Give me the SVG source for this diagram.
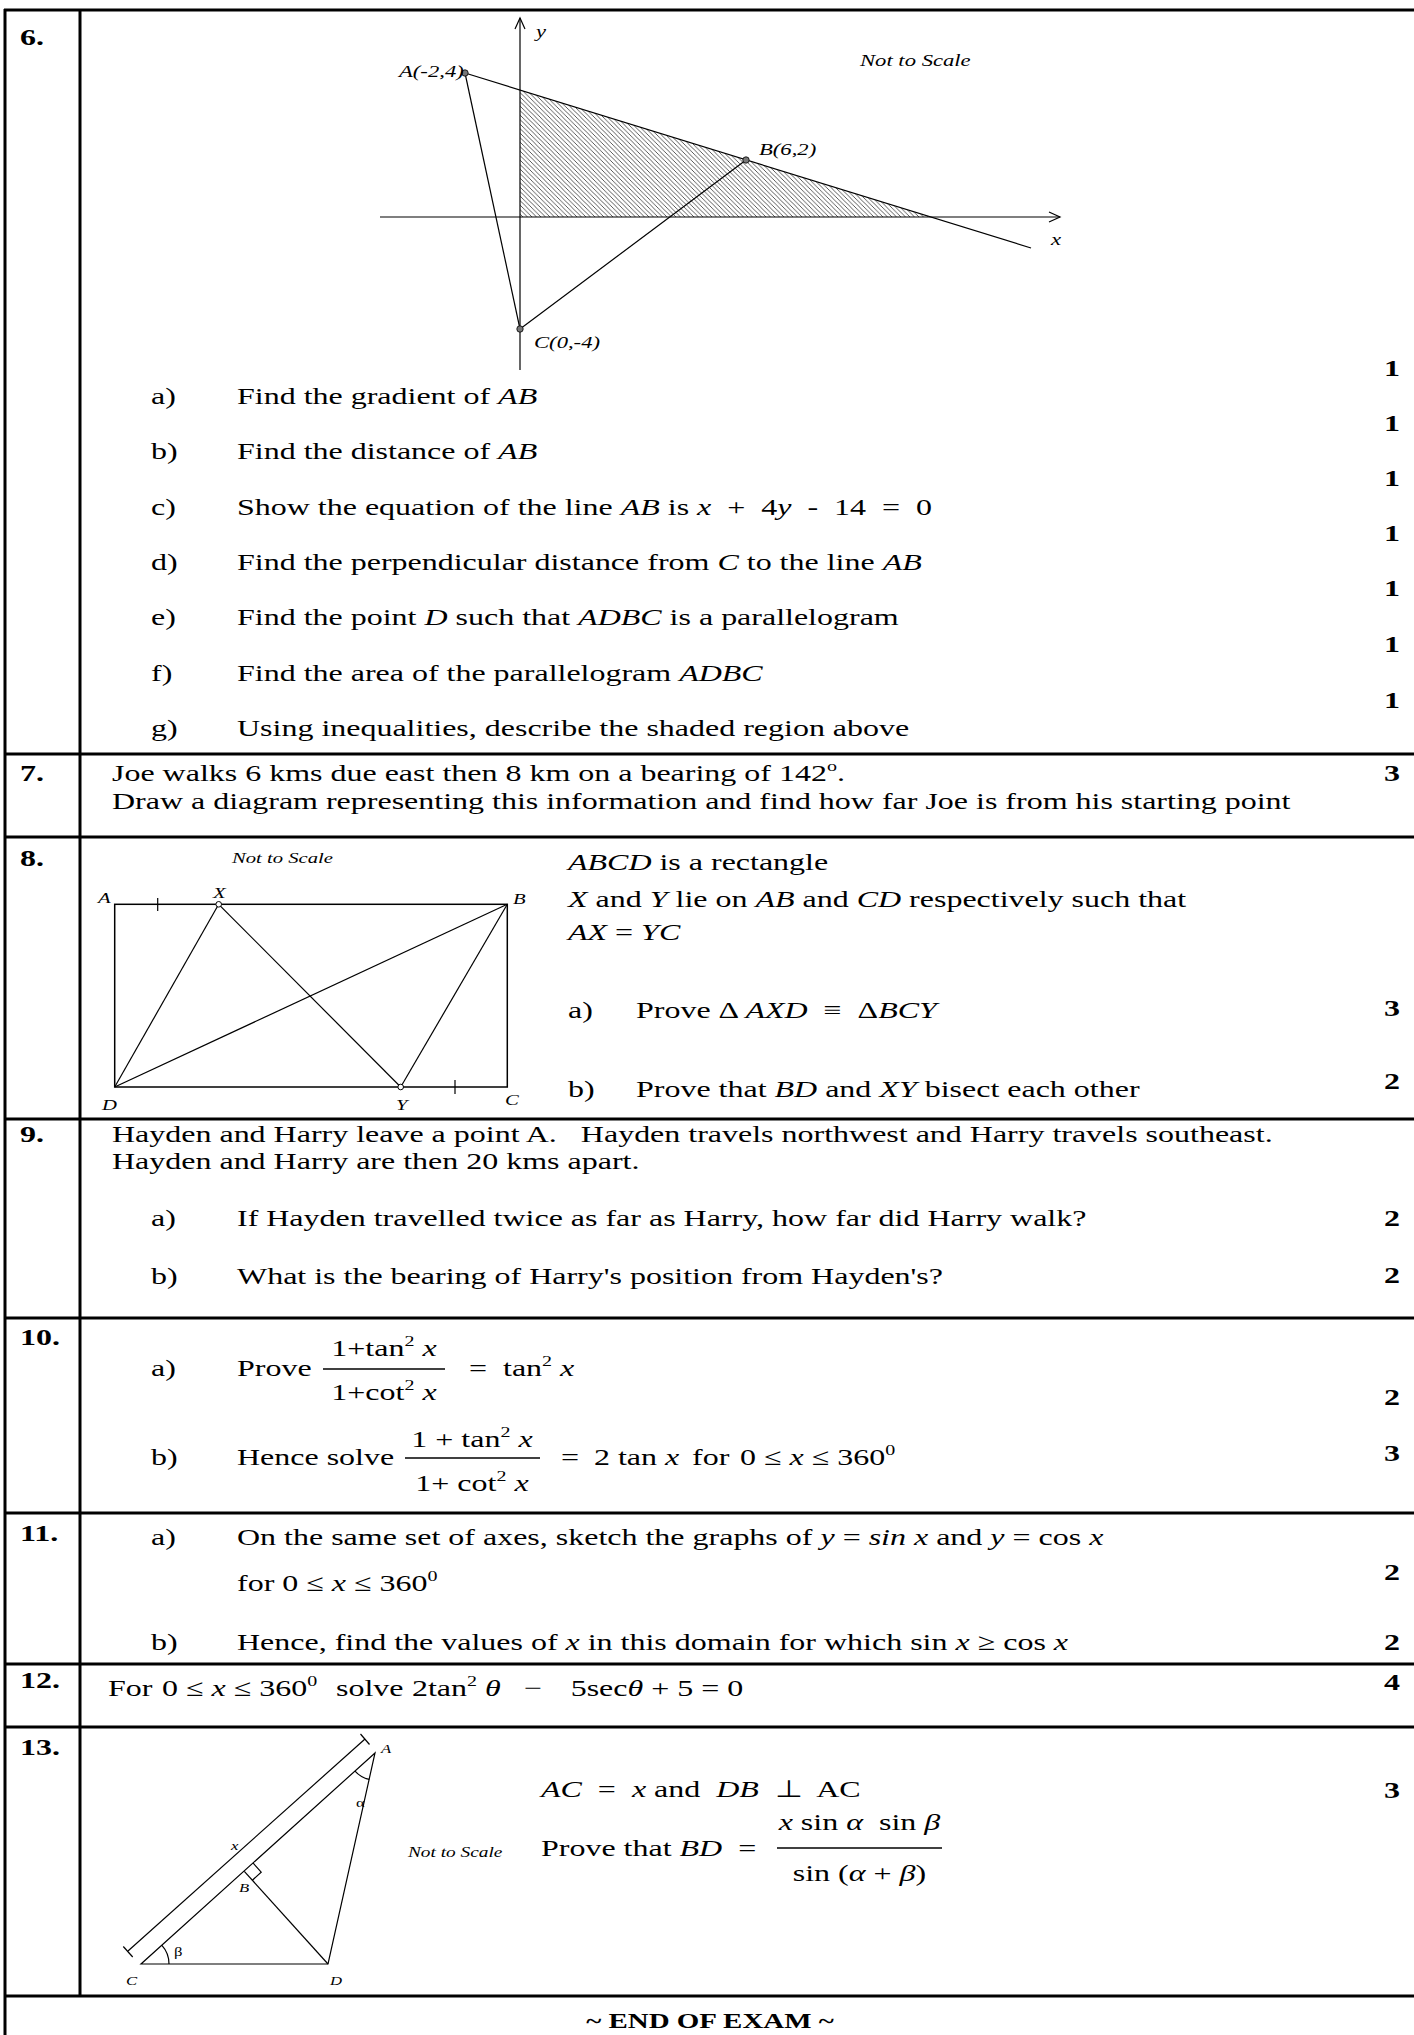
<svg xmlns="http://www.w3.org/2000/svg" width="1414" height="2035" viewBox="0 0 1414 2035">
<defs>
<pattern id="hatch" patternUnits="userSpaceOnUse" width="4.5" height="4.5">
<path d="M-1,-1 L5.5,5.5 M-1,3.5 L1,5.5 M3.5,-1 L5.5,1" stroke="#333" stroke-width="0.8"/>
</pattern>
<style>
.t{font-family:"Liberation Serif","Times New Roman",serif;font-size:24px;fill:#000}
.b{font-weight:bold}
.i{font-style:italic}
.s{font-size:15px}
.l17{font-size:17px;font-style:italic}
.l15{font-size:15.5px;font-style:italic}
.l12{font-size:12.5px;font-style:italic}
.u{font-style:normal}
.m{text-anchor:middle}
.e{text-anchor:end}
.ln{stroke:#000;fill:none;stroke-width:1.2}
.tb{stroke:#000;stroke-width:3}
</style>
</defs>
<rect width="1414" height="2035" fill="#fff"/>
<g id="table">
<line class="tb" x1="4" y1="10" x2="1414" y2="10"/>
<line class="tb" x1="5" y1="9" x2="5" y2="2035"/>
<line class="tb" x1="80" y1="9" x2="80" y2="1996"/>
<line class="tb" x1="4" y1="754" x2="1414" y2="754"/>
<line class="tb" x1="4" y1="837" x2="1414" y2="837"/>
<line class="tb" x1="4" y1="1119" x2="1414" y2="1119"/>
<line class="tb" x1="4" y1="1318" x2="1414" y2="1318"/>
<line class="tb" x1="4" y1="1513" x2="1414" y2="1513"/>
<line class="tb" x1="4" y1="1664" x2="1414" y2="1664"/>
<line class="tb" x1="4" y1="1727" x2="1414" y2="1727"/>
<line class="tb" x1="4" y1="1996" x2="1414" y2="1996"/>
</g>
<g id="q6-graph">
<polygon points="520,90 930,217 520,217" fill="url(#hatch)"/>
<line class="ln" x1="380" y1="217" x2="1060" y2="217"/>
<path class="ln" d="M1049,212 L1060,217 L1049,222"/>
<line class="ln" x1="520" y1="370" x2="520" y2="18"/>
<path class="ln" d="M515,29 L520,18 L525,29"/>
<line class="ln" x1="465" y1="73" x2="1031" y2="248"/>
<line class="ln" x1="465" y1="73" x2="520" y2="329"/>
<line class="ln" x1="520" y1="329" x2="746" y2="160"/>
<circle cx="465" cy="73" r="3.2" fill="#777" stroke="#000" stroke-width="0.8"/>
<circle cx="746" cy="160" r="3.2" fill="#777" stroke="#000" stroke-width="0.8"/>
<circle cx="520" cy="329" r="3.2" fill="#777" stroke="#000" stroke-width="0.8"/>
</g>
<g id="q8-diagram">
<rect x="114.7" y="904.3" width="392.6" height="182.7" fill="none" stroke="#000" stroke-width="1.5"/>
<line class="ln" x1="114.7" y1="1087" x2="218.7" y2="904.3"/>
<line class="ln" x1="218.7" y1="904.3" x2="400.7" y2="1087"/>
<line class="ln" x1="114.7" y1="1087" x2="507.3" y2="904.3"/>
<line class="ln" x1="400.7" y1="1087" x2="507.3" y2="904.3"/>
<line class="ln" x1="157.7" y1="898" x2="157.7" y2="911"/>
<line class="ln" x1="455" y1="1080" x2="455" y2="1094"/>
<circle cx="218.7" cy="904.3" r="2.8" fill="#fff" stroke="#000" stroke-width="1"/>
<circle cx="400.7" cy="1087" r="2.8" fill="#fff" stroke="#000" stroke-width="1"/>
</g>
<g id="q13-diagram">
<path class="ln" d="M375,1753 L141,1964 L328,1964 Z"/>
<line class="ln" x1="244.3" y1="1871.3" x2="328" y2="1964"/>
<path class="ln" d="M253.2,1863.2 L261.2,1872.1 L252.4,1880.2"/>
<line class="ln" x1="128" y1="1951" x2="365" y2="1739"/>
<line class="ln" x1="123.3" y1="1946.5" x2="132.7" y2="1957"/>
<line class="ln" x1="360.5" y1="1734" x2="369.5" y2="1744.5"/>
<path class="ln" d="M355,1771.1 A27,27 0 0 0 369.2,1779.4"/>
<path class="ln" d="M169,1964 A28,28 0 0 0 161.7,1945.2"/>
</g>
<g id="fraction-bars" stroke="#000" stroke-width="1.5">
<line x1="323" y1="1369" x2="445" y2="1369"/>
<line x1="405" y1="1458" x2="540" y2="1458"/>
<line x1="777" y1="1848" x2="942" y2="1848"/>
</g>
<g id="texts" class="t" transform="scale(1.33333 1)">
<g class="b">
<text x="15" y="45">6.</text>
<text x="15" y="781">7.</text>
<text x="15" y="866">8.</text>
<text x="15" y="1142">9.</text>
<text x="15" y="1345">10.</text>
<text x="15" y="1541">11.</text>
<text x="15" y="1688">12.</text>
<text x="15" y="1755">13.</text>
</g>
<g class="b e">
<text x="1050" y="376">1</text>
<text x="1050" y="431">1</text>
<text x="1050" y="486">1</text>
<text x="1050" y="541">1</text>
<text x="1050" y="596">1</text>
<text x="1050" y="652">1</text>
<text x="1050" y="708">1</text>
<text x="1050" y="781">3</text>
<text x="1050" y="1016">3</text>
<text x="1050" y="1089">2</text>
<text x="1050" y="1226">2</text>
<text x="1050" y="1283">2</text>
<text x="1050" y="1405">2</text>
<text x="1050" y="1461">3</text>
<text x="1050" y="1580">2</text>
<text x="1050" y="1650">2</text>
<text x="1050" y="1690">4</text>
<text x="1050" y="1798">3</text>
</g>
<!-- Q6 -->
<text class="l17" x="645" y="66">Not to Scale</text>
<text class="l17" x="299.25" y="77">A(-2,4)</text>
<text class="l17" x="569.25" y="155">B(6,2)</text>
<text class="l17" x="400.5" y="348">C(0,-4)</text>
<text class="l17" x="402" y="37">y</text>
<text class="l17" x="788.25" y="245">x</text>
<text x="113.25" y="404">a)</text>
<text x="177.75" y="404">Find the gradient of <tspan class="i">AB</tspan></text>
<text x="113.25" y="459">b)</text>
<text x="177.75" y="459">Find the distance of <tspan class="i">AB</tspan></text>
<text x="113.25" y="515">c)</text>
<text x="177.75" y="515">Show the equation of the line <tspan class="i">AB</tspan> is <tspan class="i">x</tspan>&#160; +&#160; 4<tspan class="i">y</tspan>&#160; -&#160; 14&#160; =&#160; 0</text>
<text x="113.25" y="570">d)</text>
<text x="177.75" y="570">Find the perpendicular distance from <tspan class="i">C</tspan> to the line <tspan class="i">AB</tspan></text>
<text x="113.25" y="625">e)</text>
<text x="177.75" y="625">Find the point <tspan class="i">D</tspan> such that <tspan class="i">ADBC</tspan> is a parallelogram</text>
<text x="113.25" y="681">f)</text>
<text x="177.75" y="681">Find the area of the parallelogram <tspan class="i">ADBC</tspan></text>
<text x="113.25" y="736">g)</text>
<text x="177.75" y="736">Using inequalities, describe the shaded region above</text>
<!-- Q7 -->
<text x="84" y="781">Joe walks 6 kms due east then 8 km on a bearing of 142<tspan class="s" dy="-10">o</tspan><tspan dy="10">.</tspan></text>
<text x="84" y="809">Draw a diagram representing this information and find how far Joe is from his starting point</text>
<!-- Q8 -->
<text class="l15" x="174" y="863">Not to Scale</text>
<text class="l15" x="73.5" y="903">A</text>
<text class="l15" x="159.75" y="898">X</text>
<text class="l15" x="384.75" y="904">B</text>
<text class="l15" x="76.5" y="1110">D</text>
<text class="l15" x="297" y="1110">Y</text>
<text class="l15" x="378.75" y="1105">C</text>
<text x="426" y="870"><tspan class="i">ABCD</tspan> is a rectangle</text>
<text x="426" y="907"><tspan class="i">X</tspan> and <tspan class="i">Y</tspan> lie on <tspan class="i">AB</tspan> and <tspan class="i">CD</tspan> respectively such that</text>
<text x="426" y="940"><tspan class="i">AX</tspan> = <tspan class="i">YC</tspan></text>
<text x="426" y="1018">a)</text>
<text x="477" y="1018">Prove Δ <tspan class="i">AXD</tspan>&#160; ≡&#160; Δ<tspan class="i">BCY</tspan></text>
<text x="426" y="1097">b)</text>
<text x="477" y="1097">Prove that <tspan class="i">BD</tspan> and <tspan class="i">XY</tspan> bisect each other</text>
<!-- Q9 -->
<text x="84" y="1142">Hayden and Harry leave a point A.&#160;&#160; Hayden travels northwest and Harry travels southeast.</text>
<text x="84" y="1169">Hayden and Harry are then 20 kms apart.</text>
<text x="113.25" y="1226">a)</text>
<text x="177.75" y="1226">If Hayden travelled twice as far as Harry, how far did Harry walk?</text>
<text x="113.25" y="1284">b)</text>
<text x="177.75" y="1284">What is the bearing of Harry's position from Hayden's?</text>
<!-- Q10 -->
<text x="113.25" y="1376">a)</text>
<text x="177.75" y="1376">Prove</text>
<text class="m" x="288" y="1356">1+tan<tspan class="s" dy="-10">2</tspan><tspan class="i" dy="10"> x</tspan></text>
<text class="m" x="288" y="1400">1+cot<tspan class="s" dy="-10">2</tspan><tspan class="i" dy="10"> x</tspan></text>
<text x="351.75" y="1376">=&#160; tan<tspan class="s" dy="-10">2</tspan><tspan class="i" dy="10"> x</tspan></text>
<text x="113.25" y="1465">b)</text>
<text x="177.75" y="1465">Hence solve</text>
<text class="m" x="354" y="1447">1 + tan<tspan class="s" dy="-10">2</tspan><tspan class="i" dy="10"> x</tspan></text>
<text class="m" x="354" y="1491">1+ cot<tspan class="s" dy="-10">2</tspan><tspan class="i" dy="10"> x</tspan></text>
<text x="420.75" y="1465">=</text>
<text x="445.5" y="1465">2 tan <tspan class="i">x</tspan></text>
<text x="519" y="1465">for</text>
<text x="555" y="1465">0 ≤ <tspan class="i">x</tspan> ≤ 360<tspan class="s" dy="-10">0</tspan></text>
<!-- Q11 -->
<text x="113.25" y="1545">a)</text>
<text x="177.75" y="1545">On the same set of axes, sketch the graphs of <tspan class="i">y</tspan> = <tspan class="i">sin x</tspan> and <tspan class="i">y</tspan> = cos <tspan class="i">x</tspan></text>
<text x="177.75" y="1591">for 0 ≤ <tspan class="i">x</tspan> ≤ 360<tspan class="s" dy="-10">0</tspan></text>
<text x="113.25" y="1650">b)</text>
<text x="177.75" y="1650">Hence, find the values of <tspan class="i">x</tspan> in this domain for which sin <tspan class="i">x</tspan> ≥ cos <tspan class="i">x</tspan></text>
<!-- Q12 -->
<text x="81" y="1696">For</text>
<text x="121.5" y="1696">0 ≤ <tspan class="i">x</tspan> ≤ 360<tspan class="s" dy="-10">0</tspan></text>
<text x="252" y="1696">solve</text>
<text x="309" y="1696">2tan<tspan class="s" dy="-10">2</tspan><tspan class="i" dy="10"> θ</tspan></text>
<text x="393" y="1696">−</text>
<text x="428" y="1696">5sec<tspan class="i">θ</tspan> + 5 = 0</text>
<!-- Q13 -->
<text class="l12" x="285.75" y="1753">A</text>
<text class="l12" x="94.5" y="1985">C</text>
<text class="l12" x="247.5" y="1985">D</text>
<text class="l12" x="179.25" y="1892">B</text>
<text class="l12" x="173.25" y="1850">x</text>
<text class="l12 u" x="267" y="1807">α</text>
<text class="l12 u" x="130.5" y="1956">β</text>
<text class="i" style="font-size:14.5px" x="306" y="1857">Not to Scale</text>
<text x="405.75" y="1797"><tspan class="i">AC</tspan>&#160; =&#160; <tspan class="i">x</tspan> and&#160; <tspan class="i">DB</tspan>&#160; ⊥&#160; AC</text>
<text x="405.75" y="1856">Prove that <tspan class="i">BD</tspan>&#160; =</text>
<text class="m" x="644.6" y="1830"><tspan class="i">x</tspan> sin <tspan class="i">α</tspan>&#160; sin <tspan class="i">β</tspan></text>
<text class="m" x="644.6" y="1881">sin (<tspan class="i">α</tspan> + <tspan class="i">β</tspan>)</text>
<!-- END -->
<text class="b m" style="font-size:21.7px" x="532.5" y="2028">~ END OF EXAM ~</text>
</g>
</svg>
